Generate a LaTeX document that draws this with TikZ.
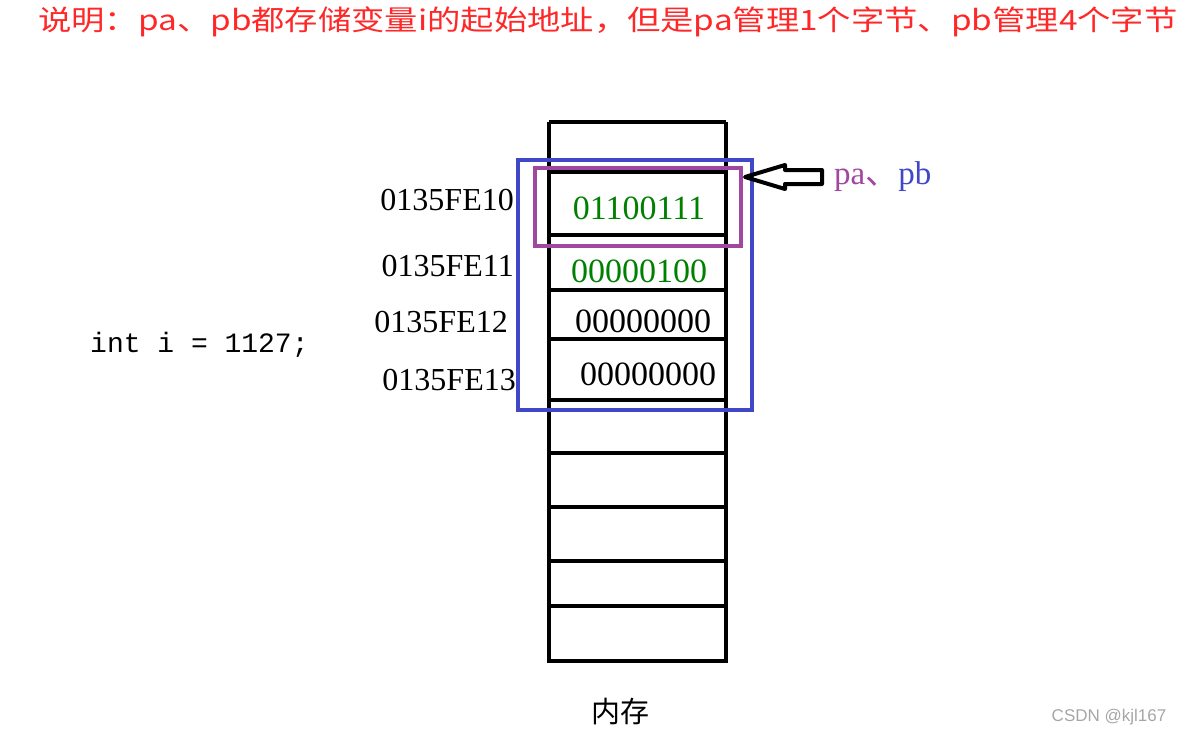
\documentclass[tikz,border=0pt]{standalone}
\usepackage{fontspec}
\usepackage{graphicx}
\setmainfont{Liberation Serif}
\newfontfamily\cjk{Noto Sans CJK SC}
\newfontfamily\mono{Liberation Mono}
\newfontfamily\sans{Liberation Sans}
\definecolor{tred}{RGB}{255,40,40}
\definecolor{bbox}{RGB}{64,72,200}
\definecolor{pbox}{RGB}{160,72,160}
\definecolor{dgreen}{RGB}{0,128,0}
\begin{document}
\begin{tikzpicture}[x=1pt,y=-1pt,
  mem/.style={line width=4pt},
  addr/.style={font=\fontsize{32}{33}\selectfont, anchor=east, inner sep=0},
  val/.style={font=\fontsize{34}{35}\selectfont, inner sep=0}]
\useasboundingbox (0,0) rectangle (1187,737);
\node[font=\cjk\fontsize{28}{30}\selectfont, text=tred, anchor=west, inner sep=0] (title) at (38,22) {\scalebox{1.19}[1]{说明：pa、pb都存储变量i的起始地址，但是pa管理1个字节、pb管理4个字节}};
% memory column
\draw[mem] (549,122) -- (549,663) coordinate (bl);
\draw[mem] (726,122) -- (726,663);
\foreach \y in {122,172,235,290,339,400,453,507,561,606,661}
  \draw[mem] (549,\y) -- (726,\y);
\node[val, text=dgreen] (v0) at (639,208) {01100111};
\node[val, text=dgreen] (v1) at (639,271) {00000100};
\node[val] (v2) at (643,321) {00000000};
\node[val] (v3) at (648,374) {00000000};
\node[addr] (a0) at (514,200) {0135FE10};
\node[addr] (a1) at (514,266) {0135FE11};
\node[addr] (a2) at (508,322) {0135FE12};
\node[addr] (a3) at (516,380) {0135FE13};
\node[font=\mono\fontsize{28}{30}\selectfont, anchor=west, inner sep=0] (code) at (90,345) {int i = 1127;};
\draw[bbox, line width=4pt] (518,160) rectangle (752,410);
\draw[pbox, line width=4pt] (535,168) rectangle (741,246);
% hollow arrow
\draw[line width=4pt, line join=round] (745,177) -- (785,165) -- (785,170) -- (822,170) -- (822,184) -- (785,184) -- (785,189) -- cycle;
\node[anchor=west, inner sep=0, font=\fontsize{33}{34}\selectfont] (lbl) at (834,177) {\textcolor{pbox}{pa\cjk 、}\textcolor{bbox}{pb}};
\node[font=\cjk\fontsize{29}{30}\selectfont, inner sep=0] (mem) at (620,711) {内存};
\node[font=\sans\fontsize{17}{18}\selectfont, text=gray!70, inner sep=0] (wm) at (1109,717) {CSDN @kjl167};
\end{tikzpicture}
\end{document}
